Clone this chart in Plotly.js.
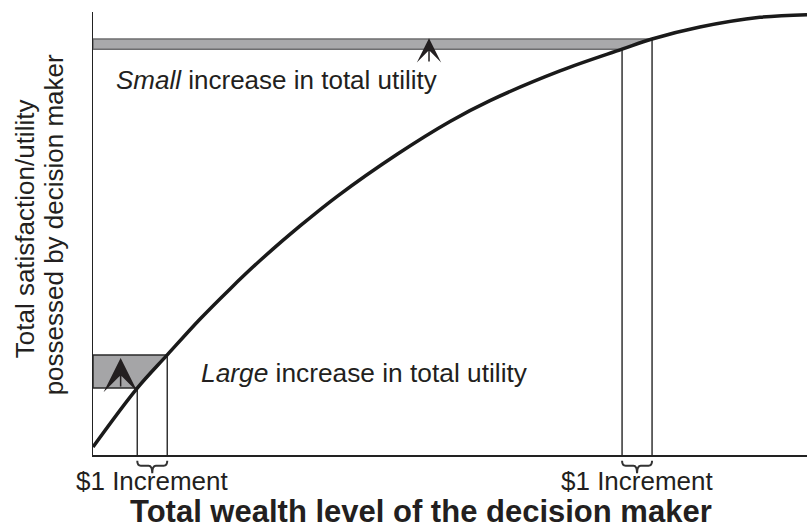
<!DOCTYPE html>
<html>
<head>
<meta charset="utf-8">
<script src="https://cdn.plot.ly/plotly-3.0.1.min.js"></script>
<style>html,body{margin:0;padding:0;background:#fff;}#chart{width:807px;height:531px;}</style>
</head>
<body>
<div id="chart"></div>
<script>
// Utility curve (wealth and utility in arbitrary units 0-100)
const wealth  = [0, 6.2, 10.4, 15.0, 19.2, 23.4, 29.0, 34.2, 42.6, 50.0, 55.6, 65.4, 74.1, 78.3, 85.0, 93.4, 100];
const utility = [1.8, 15.1, 22.6, 30.7, 37.5, 43.9, 51.7, 58.4, 67.9, 75.3, 80.0, 86.7, 91.6, 93.9, 96.6, 98.8, 99.4];
// Indices of the two $1 increments on the curve
const lowIncrement  = [1, 2];
const highIncrement = [12, 13];
// Texts
const incrementLabel = "$1 Increment";
const smallText = "<i>Small</i> increase in total utility";
const largeText = "<i>Large</i> increase in total utility";
const xTitle = "<b>Total wealth level of the decision maker</b>";
const yTitleLines = ["Total satisfaction/utility", "possessed by decision maker"];

const ink = "#231f20";
const FONT = "Liberation Sans, Arial, sans-serif";

function band(idx, fill, edge) {
  const [a, b] = idx;
  return {
    x: [0, wealth[a], wealth[b], 0, 0],
    y: [utility[a], utility[a], utility[b], utility[b], utility[a]],
    mode: "lines", fill: "toself", fillcolor: fill,
    line: {color: edge, width: 1.5}, hoverinfo: "skip", showlegend: false
  };
}
function verticals(idx) {
  const [a, b] = idx;
  return {
    x: [wealth[a], wealth[a], null, wealth[b], wealth[b]],
    y: [0, utility[a], null, 0, utility[b]],
    mode: "lines", line: {color: "#333", width: 1.5}, hoverinfo: "skip", showlegend: false
  };
}

const traces = [
  band(highIncrement, "#a9a9ab", "#6d6d6f"),
  band(lowIncrement, "#a5a5a7", "#2a2a2a"),
  verticals(lowIncrement),
  verticals(highIncrement),
  {x: wealth, y: utility, mode: "lines", line: {color: "#1a1a1a", width: 3.5, shape: "spline", smoothing: 1},
   cliponaxis: false, hoverinfo: "skip", showlegend: false}
];

function brace(idx) {
  const x0 = wealth[idx[0]], x1 = wealth[idx[1]], xc = (x0 + x1) / 2, d = 0.5;
  const yt = -0.013, ym = -0.024, yb = -0.041;
  return {
    type: "path", xref: "x", yref: "paper",
    path: `M${x0},${yt} Q${x0},${ym} ${x0 + d},${ym} L${xc - d},${ym} Q${xc},${ym} ${xc},${yb} ` +
          `Q${xc},${ym} ${xc + d},${ym} L${x1 - d},${ym} Q${x1},${ym} ${x1},${yt}`,
    line: {color: "#333", width: 2}
  };
}

const baseFont = {family: FONT, size: 26, color: ink};
const annotations = [
  {x: 3.0, y: 84.7, xref: "x", yref: "y", text: smallText, showarrow: false, xanchor: "left", yanchor: "middle", font: baseFont},
  {x: 14.9, y: 18.5, xref: "x", yref: "y", text: largeText, showarrow: false, xanchor: "left", yanchor: "middle",
   font: {family: FONT, size: 26.3, color: ink}},
  {x: (wealth[lowIncrement[0]] + wealth[lowIncrement[1]]) / 2, y: -0.059, xref: "x", yref: "paper", text: incrementLabel,
   showarrow: false, xanchor: "center", yanchor: "middle", font: baseFont},
  {x: (wealth[highIncrement[0]] + wealth[highIncrement[1]]) / 2, y: -0.059, xref: "x", yref: "paper", text: incrementLabel,
   showarrow: false, xanchor: "center", yanchor: "middle", font: baseFont},
  {x: 0.459, y: -0.128, xref: "paper", yref: "paper", text: xTitle, showarrow: false, xanchor: "center", yanchor: "middle",
   font: {family: FONT, size: 31, color: ink}},
  {x: -0.095, y: 0.51, xref: "paper", yref: "paper", text: yTitleLines[0], textangle: -90, showarrow: false,
   xanchor: "center", yanchor: "middle", font: baseFont},
  {x: -0.055, y: 0.52, xref: "paper", yref: "paper", text: yTitleLines[1], textangle: -90, showarrow: false,
   xanchor: "center", yanchor: "middle", font: baseFont},
  // arrows
  {x: 47.06, y: 94.1, ax: 47.06, ay: 88.5, xref: "x", yref: "y", axref: "x", ayref: "y", text: "", showarrow: true,
   arrowhead: 3, arrowsize: 2.7, arrowwidth: 1.5, arrowcolor: ink},
  {x: 3.87, y: 21.9, ax: 3.87, ay: 15.1, xref: "x", yref: "y", axref: "x", ayref: "y", text: "", showarrow: true,
   arrowhead: 3, arrowsize: 3.8, arrowwidth: 1.5, arrowcolor: ink}
];

const axisBase = {showline: true, linecolor: "#222", linewidth: 1.5, showgrid: false, zeroline: false,
  showticklabels: false, ticks: "", fixedrange: true};

const layout = {
  width: 807, height: 531,
  margin: {l: 93, r: 0, t: 12, b: 76, pad: 0},
  paper_bgcolor: "#fff", plot_bgcolor: "#fff",
  xaxis: Object.assign({range: [0, 100]}, axisBase),
  yaxis: Object.assign({range: [0, 100]}, axisBase),
  shapes: [brace(lowIncrement), brace(highIncrement)],
  annotations: annotations,
  showlegend: false
};

Plotly.newPlot("chart", traces, layout, {displayModeBar: false, staticPlot: true});
</script>
</body>
</html>
